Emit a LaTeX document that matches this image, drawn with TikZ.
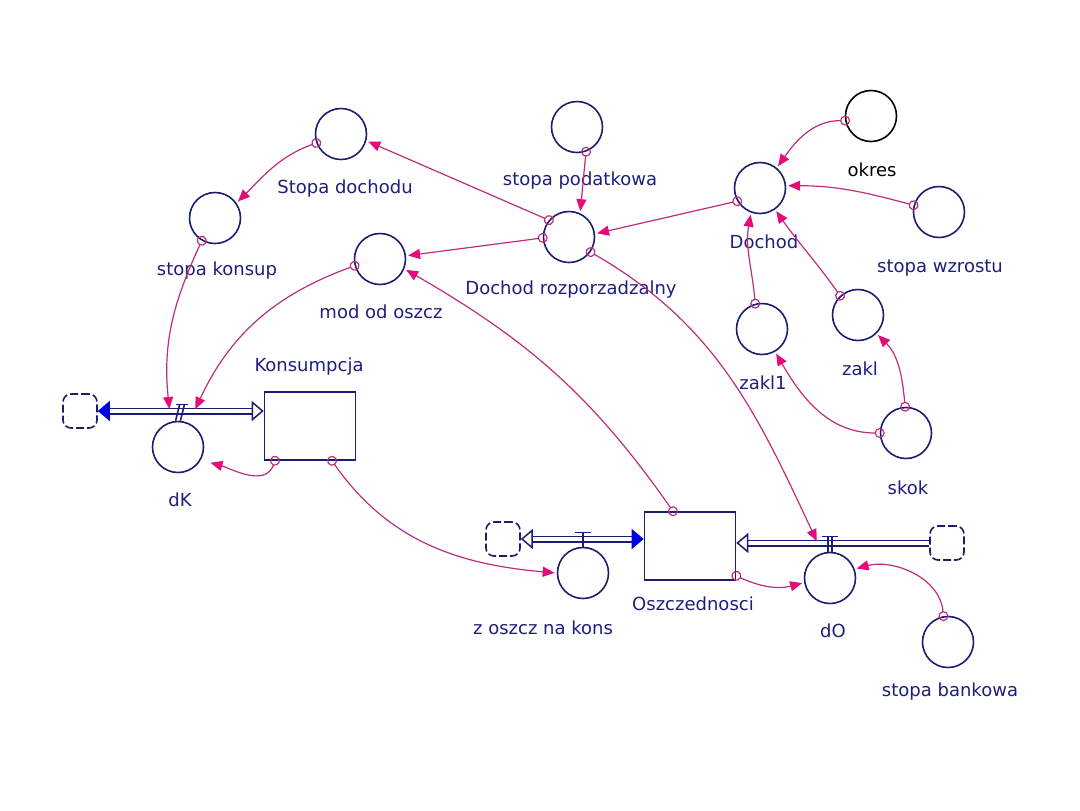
\documentclass[tikz,border=0pt]{standalone}
\usepackage{fontspec}
\setmainfont{DejaVu Sans}
\usetikzlibrary{positioning,arrows.meta,calc}
\definecolor{varbrd}{RGB}{28,28,112}
\definecolor{lbltxt}{RGB}{30,30,125}
\definecolor{linkln}{RGB}{190,45,125}
\definecolor{linktip}{RGB}{228,12,118}
\definecolor{pipetip}{RGB}{0,0,225}

\begin{document}
\begin{tikzpicture}[
  x=0.5pt, y=-0.5pt,
  every node/.style={font=\fontsize{9}{10}\selectfont, text=lbltxt},
  conv/.style  ={circle, draw=varbrd, line width=0.8pt, minimum size=25.5pt, inner sep=0pt},
  stock/.style ={rectangle, draw=varbrd, line width=0.8pt, minimum width=45.5pt,
                 minimum height=34pt, inner sep=0pt},
  cloud/.style ={rectangle, rounded corners=4pt, draw=varbrd, line width=0.8pt,
                 dash pattern=on 4pt off 1.5pt, minimum size=17pt, inner sep=0pt},
  lbl/.style   ={inner sep=0pt},
  valve/.style ={inner sep=0pt, minimum width=12pt, minimum height=6pt},
  vbar/.style  ={draw=varbrd, line width=0.8pt},
  pipe/.style  ={draw=varbrd, double=white, double distance=2pt, line width=0.75pt},
  link/.style  ={draw=linkln, line width=0.6pt, shorten <=-2.5pt, shorten >=1pt,
                 {Circle[open, length=5pt, width=5pt, linkln]}-{Triangle[length=6pt, width=5pt, linktip]}},
]
\useasboundingbox (0,0) rectangle (1080,810);

%% ── Auxiliaries ──────────────────────────────────────────────
\node[conv] (Sd)    at (341,134) {};
\node[conv] (Sk)    at (215,218) {};
\node[conv] (mod)   at (380,259) {};
\node[conv] (SP)    at (577,127) {};
\node[conv] (DR)    at (569,237) {};
\node[conv] (Doch)  at (760,188) {};
\node[conv, draw=black] (okres) at (871,116) {};
\node[conv] (sw)    at (939,212) {};
\node[conv] (z1)    at (762,329) {};
\node[conv] (zakl)  at (858,315) {};
\node[conv] (skok)  at (906,433) {};
\node[conv] (sb)    at (948,642) {};

\node[lbl] (SdL)    at (345,189) {Stopa dochodu};
\node[lbl] (SkL)    at (217,271) {stopa konsup};
\node[lbl] (modL)   at (381,312) {mod od oszcz};
\node[lbl] (SPL)    at (580,181) {stopa podatkowa};
\node[lbl] (DRL)    at (571,290) {Dochod rozporzadzalny};
\node[lbl] (DochL)  at (764,242) {Dochod};
\node[lbl, text=black] (okresL) at (872,170) {okres};
\node[lbl] (swL)    at (940,268) {stopa wzrostu};
\node[lbl] (z1L)    at (763,383) {zakl1};
\node[lbl] (zaklL)  at (860,369) {zakl};
\node[lbl] (skokL)  at (908,488) {skok};
\node[lbl] (sbL)    at (950,692) {stopa bankowa};

%% ── Stocks, clouds, flows ────────────────────────────────────
\node[stock] (Kons) at (310,426) {};
\node[stock] (Osz)  at (690,546) {};
\node[lbl] (KonsL)  at (309,367) {Konsumpcja};
\node[lbl] (OszL)   at (693,604) {Oszczednosci};

\node[cloud] (cK)  at (80,411)  {};
\node[cloud] (cO1) at (503,539) {};
\node[cloud] (cO2) at (947,543) {};

\node[conv] (dK)  at (178,447) {};
\node[conv] (zoc) at (583,573) {};
\node[conv] (dO)  at (830,578) {};
\node[lbl] (dKL)  at (180,500) {dK};
\node[lbl] (zocL) at (543,628) {z oszcz na kons};
\node[lbl] (dOL)  at (833,631) {dO};

\node[valve] (vK) at (182,411) {};
\node[valve] (vZ) at (583,539) {};
\node[valve] (vD) at (830,543) {};

\draw[pipe, {Triangle[length=6pt, width=10pt, fill=pipetip, color=pipetip]}-{Triangle[open, length=6pt, width=10pt, fill=white]}]
  (cK.east) -- (cK.east -| Kons.west);
\draw[pipe, {Triangle[open, length=6pt, width=10pt, fill=white]}-{Triangle[length=6pt, width=10pt, fill=pipetip, color=pipetip]}]
  (cO1.east) -- (cO1.east -| Osz.west);
\draw[pipe, -{Triangle[open, length=6pt, width=10pt, fill=white]}]
  (cO2.west) -- (cO2.west -| Osz.east);

\draw[vbar] ([xshift=3pt]vK.north west) -- ([xshift=-3pt]vK.north east);
\draw[vbar] ([xshift=-1.2pt]vK.north) -- ([xshift=-1.2pt]dK.north);
\draw[vbar] ([xshift=1.2pt]vK.north) -- ([xshift=1.2pt]dK.north);
\draw[vbar] ([xshift=2pt]vZ.north west) -- ([xshift=-2pt]vZ.north east);
\draw[vbar] (vZ.north) -- (zoc.north);
\draw[vbar] ([xshift=2pt]vD.north west) -- ([xshift=-2pt]vD.north east);
\draw[vbar] ([xshift=-1pt]vD.north) -- ([xshift=-1pt]dO.north);
\draw[vbar] ([xshift=1pt]vD.north) -- ([xshift=1pt]dO.north);

%% ── Links ────────────────────────────────────────────────────
\draw[link] (DR.140) -- (Sd.-15);
\draw[link] (Sd.200) to[out=200,in=45] (Sk.35);
\draw[link] (Sk.240) to[out=245,in=96] (vK.west);
\draw[link] (mod.195) to[out=200,in=65] (vK.east);
\draw[link] (DR.182) -- (mod.7);
\draw[link] ([xshift=-8.5pt]Osz.north) to[out=125,in=-30] (mod.-22);
\draw[link] (SP.-70) -- (DR.65);
\draw[link] (Doch.210) -- (DR.7);
\draw[link] (okres.190) to[out=180,in=55] (Doch.50);
\draw[link] (sw.165) to[out=165,in=0] (Doch.5);
\draw[link] (z1.105) to[out=95,in=-100] (Doch.-110);
\draw[link] (zakl.133) to[out=125,in=-55] (Doch.-55);
\draw[link] (skok.180) to[out=180,in=-60] (z1.-60);
\draw[link] (skok.92) to[out=95,in=-45] (zakl.-45);
\draw[link] (DR.-35) to[out=-30,in=115] (vD.west);
\draw[link, shorten >=5pt] ([xshift=-17.5pt]Kons.south) to[out=-110,in=-15] (dK.-30);
\draw[link] ([xshift=11pt]Kons.south) to[out=-55,in=175] (zoc.west);
\draw[link] ([yshift=2.5pt]Osz.south east) to[out=-25,in=195] (dO.190);
\draw[link] (sb.100) to[out=95,in=15] (dO.20);

\end{tikzpicture}
\end{document}
